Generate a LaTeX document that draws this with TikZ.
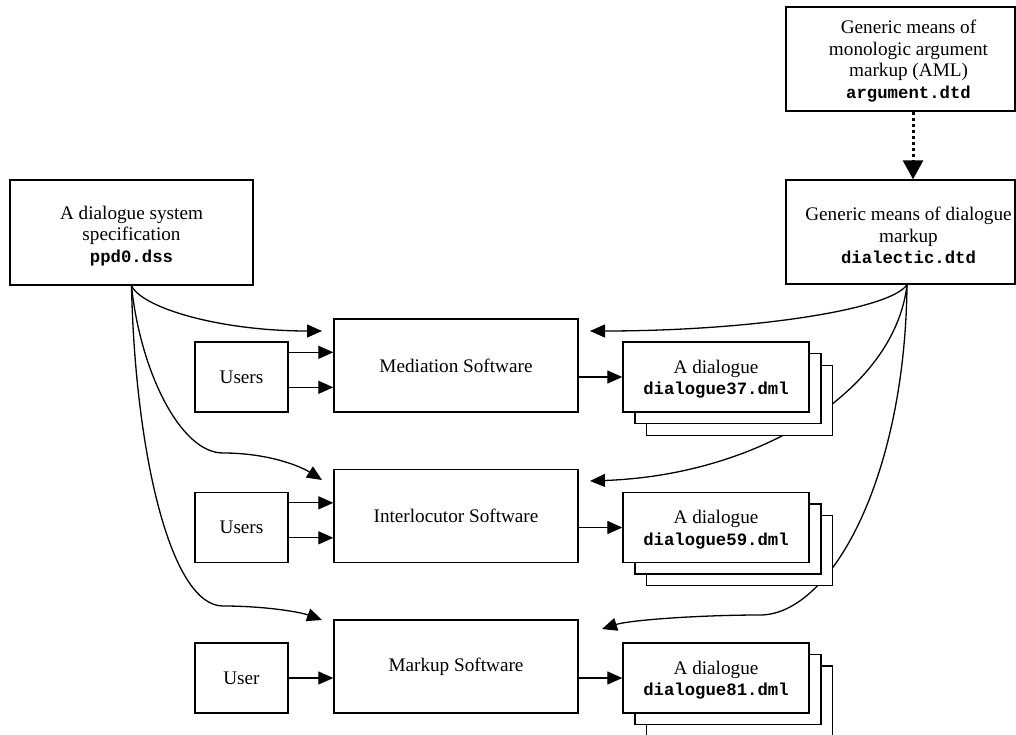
\documentclass[tikz,border=0pt]{standalone}
\usepackage{fontspec}
\setmainfont{Liberation Serif}
\setmonofont{Liberation Mono}
\usetikzlibrary{arrows.meta,calc,backgrounds}
\newcommand\codetxt[1]{{\fontsize{17.3}{21.5}\selectfont\ttfamily\bfseries #1}}
\begin{document}
\begin{tikzpicture}[x=1pt,y=-1pt,
  txt/.style={inner sep=0pt, align=center, font=\fontsize{19.2}{21.5}\selectfont},
  box/.style={draw, line width=1.35pt, fill=white, inner sep=0pt, txt},
  dlg/.style={box, minimum width=186pt, minimum height=70pt},
  soft/.style={box, minimum width=244pt, minimum height=93pt},
  usr/.style={box, minimum width=93pt, minimum height=70pt},
  arr/.style={line width=1.3pt, -{Triangle[length=15pt,width=13pt]}},
  dotline/.style={line width=3pt, dash pattern=on 3pt off 3pt, -{Triangle[length=19pt,width=20pt]}},
]
\useasboundingbox (0,0) rectangle (1016,735);
% top boxes
\node[box, minimum width=229pt, minimum height=104pt,
  label={[txt, name=amlt, xshift=8pt, yshift=-2pt]center:{Generic means of\\monologic argument\\markup (AML)\\\codetxt{argument.dtd}}}]
  (aml) at (900.5,59) {};
\node[box, minimum width=229pt, minimum height=104pt,
  label={[txt, name=dialt, xshift=8pt, yshift=-3.5pt]center:{Generic means of dialogue\\markup\\\codetxt{dialectic.dtd}}}]
  (dial) at (900.5,232) {};
\node[box, minimum width=243pt, minimum height=105pt,
  label={[txt, name=spect, yshift=-3.5pt]center:{A dialogue system\\specification\\\codetxt{ppd0.dss}}}]
  (spec) at (131.5,232.5) {};
% software boxes
\node[soft] (med) at (456,365.5) {Mediation Software};
\node[soft] (int) at (456,516) {Interlocutor Software};
\node[soft] (mk)  at (456,666.5) {Markup Software};
% users
\node[usr] (u1) at (241.5,377) {Users};
\node[usr] (u2) at (241.5,527.5) {Users};
\node[usr] (u3) at (241.5,678) {User};
% dialogue stacks
\node[dlg] (d1c) at (739.5,400.5) {};
\node[dlg] (d1b) at (728,388.5) {};
\node[dlg, label={[txt, name=d1t, yshift=-2pt]center:{A dialogue\\\codetxt{dialogue37.dml}}}] (d1) at (716,377) {};
\node[dlg] (d2c) at (739.5,550.5) {};
\node[dlg] (d2b) at (728,539) {};
\node[dlg, label={[txt, name=d2t, yshift=-2pt]center:{A dialogue\\\codetxt{dialogue59.dml}}}] (d2) at (716,527.5) {};
\node[dlg] (d3c) at (739.5,701) {};
\node[dlg] (d3b) at (728,689.5) {};
\node[dlg, label={[txt, name=d3t, yshift=-2pt]center:{A dialogue\\\codetxt{dialogue81.dml}}}] (d3) at (716,678) {};
% free ends
\coordinate (mL) at (322,331);
\coordinate (mR) at (590,331);
\coordinate (iL) at (322,480);
\coordinate (iR) at (590,481);
\coordinate (kL) at (322,620);
\coordinate (kR) at (602,629);
\coordinate (dS) at ($(dial.south)+(6.5,0)$);
% dotted arrow
\draw[dotline] ($(aml.south)+(12.5,0)$) coordinate (aS) -- (aS |- dial.north);
% user arrows
\draw[arr] ($(u1.north east)+(0,11)$) coordinate (a1) -- (a1 -| med.west);
\draw[arr] ($(u1.north east)+(0,46)$) coordinate (a2) -- (a2 -| med.west);
\draw[arr] ($(u2.north east)+(0,11)$) coordinate (a3) -- (a3 -| int.west);
\draw[arr] ($(u2.north east)+(0,46)$) coordinate (a4) -- (a4 -| int.west);
\draw[arr] (u3.east) -- (u3.east -| mk.west);
% software to dialogues
\draw[arr] (d1.west -| med.east) -- (d1.west);
\draw[arr] (d2.west -| int.east) -- (d2.west);
\draw[arr] (d3.west -| mk.east) -- (d3.west);
% curves behind
\begin{pgfonlayer}{background}
\draw[arr] (spec.south) .. controls (142,308) and (220,331) .. (mL);
\draw[arr] (spec.south) .. controls (140,370) and (180,453) .. (223,453)
  .. controls (268,453) and (300,466) .. (iL);
\draw[arr] (spec.south) .. controls (135,450) and (170,606) .. (223,606)
  .. controls (265,606) and (300,612) .. (kL);
\draw[arr] (dS) .. controls (890,310) and (750,331) .. (mR);
\draw[arr] (dS) .. controls (895,390) and (760,475) .. (iR);
\draw[arr] (dS) .. controls (905,480) and (830,615) .. (760,615)
  .. controls (700,615) and (630,620) .. (kR);
\end{pgfonlayer}
\end{tikzpicture}
\end{document}
